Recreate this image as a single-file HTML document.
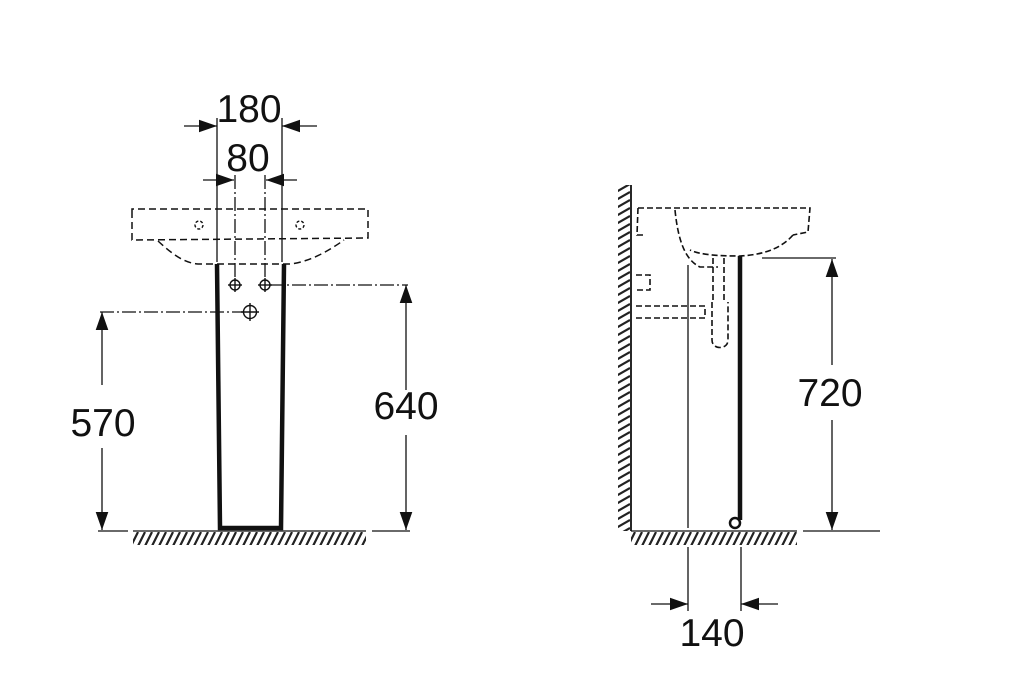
<!DOCTYPE html>
<html><head><meta charset="utf-8"><style>
html,body{margin:0;padding:0;background:#fff;}
svg{display:block;}
text{font-family:"Liberation Sans",sans-serif;fill:#111;}
</style></head><body>
<svg width="1024" height="682" viewBox="0 0 1024 682" xmlns="http://www.w3.org/2000/svg">
<defs>
<marker id="a" viewBox="0 0 10 10" refX="10" refY="5" markerWidth="18" markerHeight="18" markerUnits="userSpaceOnUse" orient="auto"><path d="M0,1.5 L10,5 L0,8.5 Z" fill="#111"/></marker>
<pattern id="h" width="7" height="14" patternUnits="userSpaceOnUse"><path d="M-2,14 L5,0 M5,14 L12,0" stroke="#222" stroke-width="2.2"/></pattern>
<pattern id="hv" width="14" height="8" patternUnits="userSpaceOnUse"><path d="M0,8 L14,0 M0,16 L14,8 M0,0 L14,-8" stroke="#222" stroke-width="2.2"/></pattern>
</defs>
<g stroke="#111" fill="none" stroke-width="1.3">
<!-- LEFT VIEW -->
<line x1="217" y1="118" x2="217" y2="262"/>
<line x1="282" y1="118" x2="282" y2="262"/>
<line x1="184" y1="126" x2="217" y2="126" marker-end="url(#a)"/>
<line x1="317" y1="126" x2="282" y2="126" marker-end="url(#a)"/>
<line x1="203" y1="180" x2="234" y2="180" marker-end="url(#a)"/>
<line x1="297" y1="180" x2="266" y2="180" marker-end="url(#a)"/>
<g stroke-dasharray="14,3,2,3">
<line x1="235" y1="175" x2="235" y2="280"/>
<line x1="265" y1="175" x2="265" y2="280"/>
<line x1="270" y1="285" x2="408" y2="285"/>
<line x1="100" y1="312" x2="243" y2="312"/>
</g>
<g stroke-dasharray="7,4" stroke-width="1.5">
<path d="M132,214 L132,209 L368,209 L368,238 L132,240 Z"/>
<path d="M158,241 C170,252 183,263 198,264 L290,264 C310,262 330,250 344,240"/>
</g>
<g stroke-width="1.4">
<circle cx="199" cy="225" r="4" stroke-dasharray="3,2"/>
<circle cx="300" cy="225" r="4" stroke-dasharray="3,2"/>
<circle cx="235" cy="285" r="5"/><line x1="235" y1="278" x2="235" y2="292"/><line x1="228" y1="285" x2="242" y2="285"/>
<circle cx="265" cy="285" r="5"/><line x1="265" y1="278" x2="265" y2="292"/><line x1="258" y1="285" x2="272" y2="285"/>
<circle cx="250" cy="312" r="6.5"/><line x1="250" y1="303" x2="250" y2="321"/><line x1="241" y1="312" x2="259" y2="312"/>
</g>
<path d="M217,264 L220,528 L281,528 L284,264" stroke-width="4.5"/>
<line x1="102" y1="385" x2="102" y2="312" marker-end="url(#a)"/>
<line x1="102" y1="448" x2="102" y2="530" marker-end="url(#a)"/>
<line x1="406" y1="390" x2="406" y2="285" marker-end="url(#a)"/>
<line x1="406" y1="435" x2="406" y2="530" marker-end="url(#a)"/>
<line x1="98" y1="531" x2="128" y2="531"/>
<line x1="133" y1="531" x2="366" y2="531"/>
<line x1="372" y1="531" x2="410" y2="531"/>
<!-- RIGHT VIEW -->
<line x1="631" y1="185" x2="631" y2="531" stroke-width="1.8"/>
<line x1="631" y1="531" x2="797" y2="531"/>
<line x1="803" y1="531" x2="880" y2="531"/>
<g stroke-dasharray="6,3" stroke-width="1.6">
<path d="M638,208 L810,208 L808,232 L793,235"/>
<path d="M638,208 L637,235 L645,235"/>
<path d="M675,210 C678,240 685,260 700,267 L718,267"/>
<path d="M793,235 C780,250 760,255 740,256 C720,256 700,255 690,250"/>
<path d="M713,258 L713,300 M724,258 L724,300"/>
<path d="M636,306 L705,306 L705,318 L636,318"/>
<path d="M712,302 L712,340 C712,350 728,350 728,340 L728,302"/>
<path d="M636,275 L650,275 L650,290 L636,290"/>
</g>
<line x1="688" y1="265" x2="688" y2="528"/>
<line x1="740" y1="256" x2="740" y2="520" stroke-width="4.5"/>
<circle cx="735" cy="523" r="5" stroke-width="2.5"/>
<line x1="688" y1="547" x2="688" y2="611"/>
<line x1="741" y1="547" x2="741" y2="611"/>
<line x1="651" y1="604" x2="688" y2="604" marker-end="url(#a)"/>
<line x1="778" y1="604" x2="741" y2="604" marker-end="url(#a)"/>
<line x1="762" y1="258" x2="836" y2="258"/>
<line x1="832" y1="365" x2="832" y2="259" marker-end="url(#a)"/>
<line x1="832" y1="420" x2="832" y2="530" marker-end="url(#a)"/>
</g>
<rect x="133" y="532" width="233" height="13" fill="url(#h)"/>
<rect x="631" y="532" width="166" height="13" fill="url(#h)"/>
<rect x="618" y="185" width="12" height="346" fill="url(#hv)"/>
<g font-size="39" text-anchor="middle">
<text x="249" y="122">180</text>
<text x="248" y="171">80</text>
<text x="103" y="436">570</text>
<text x="406" y="419">640</text>
<text x="830" y="406">720</text>
<text x="712" y="646">140</text>
</g>
</svg>
</body></html>
